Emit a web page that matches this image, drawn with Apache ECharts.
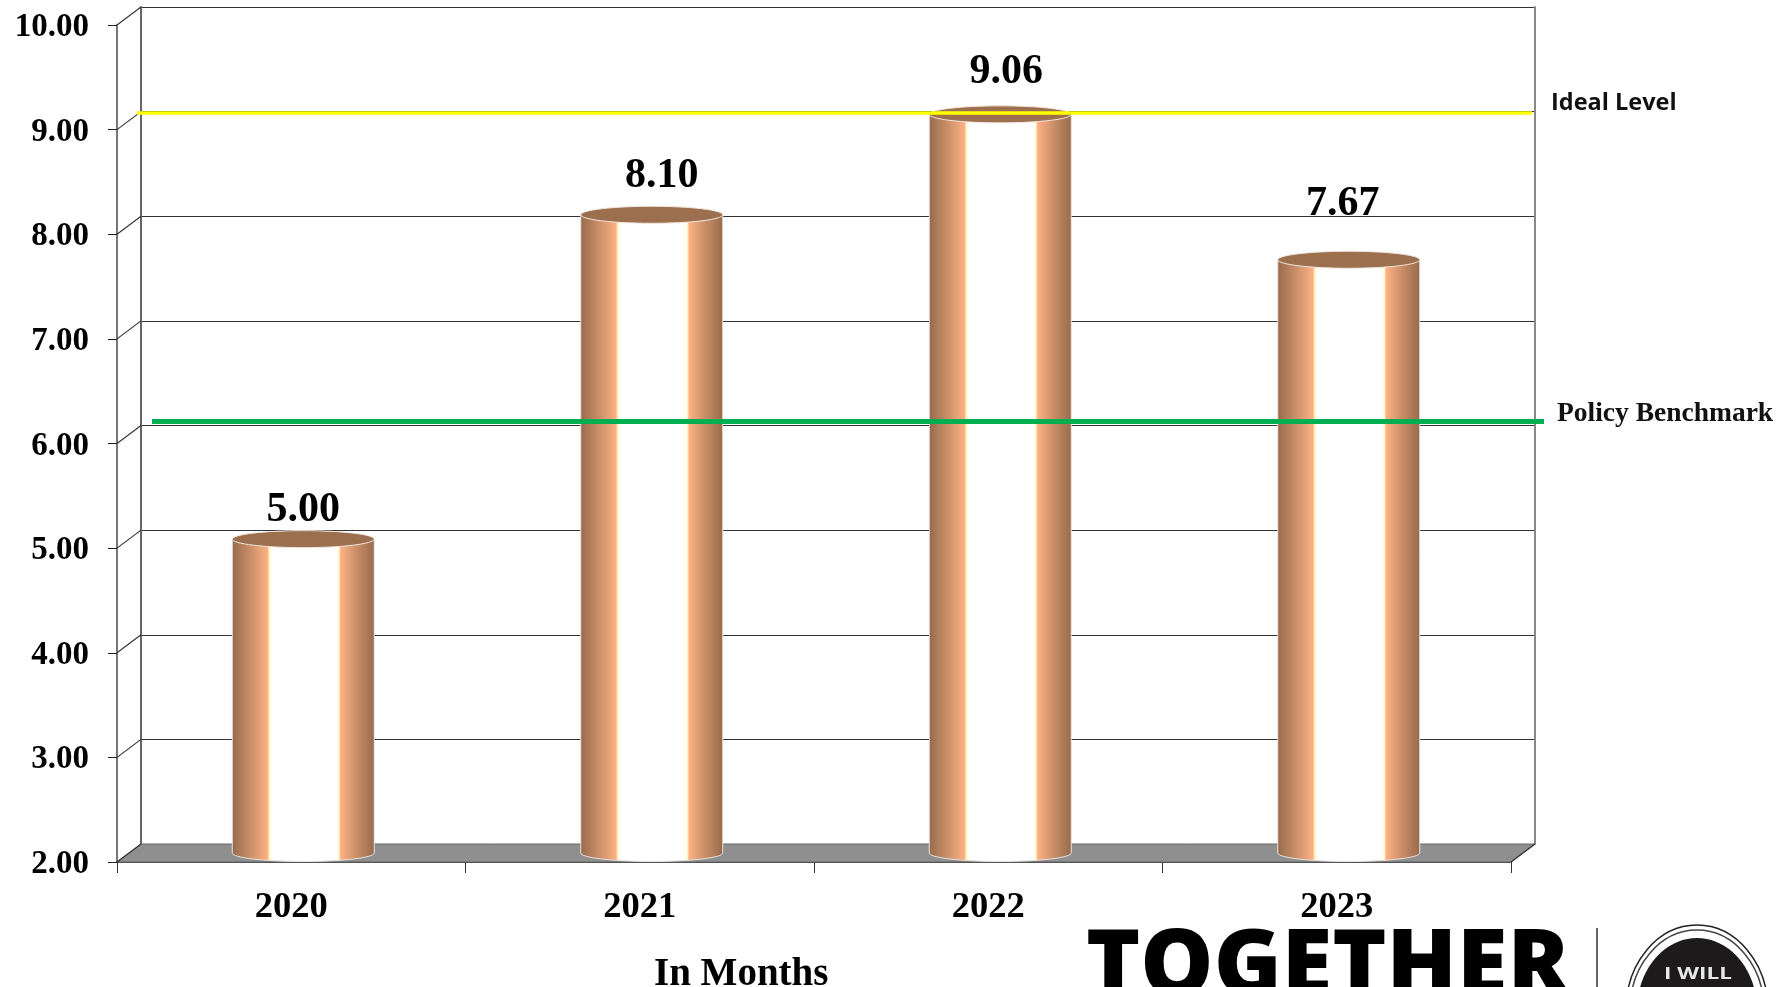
<!DOCTYPE html>
<html>
<head>
<meta charset="utf-8">
<title>Coverage in months</title>
<style>html,body{margin:0;padding:0;background:#fff}#chart{width:1784px;height:987px}</style>
<script src="https://cdn.jsdelivr.net/npm/echarts@6/dist/echarts.min.js"></script>
</head>
<body>
<div id="chart"></div>
<script>
// Chart values
const years = ['2020', '2021', '2022', '2023'];
const months = [5.00, 8.10, 9.06, 7.67];
const idealLevel = 9.16;
const policyBenchmark = 6.21;
const axisMin = 2;
const axisMax = 10;

// Perspective of the box behind the columns
const DEPTH_X = 24, DEPTH_Y = -18;
const BAR_W = 142, BAR_RY = 8.5;
const SERIF = '"Liberation Serif","Times New Roman",serif';

// Hand-placed value labels: shift from the top of each column
const labelShift = [[0, -29], [10, -39], [6, -42], [-6, -56]];

const tickValues = [];
for (let v = axisMin; v <= axisMax; v++) tickValues.push(v);

const chart = echarts.init(document.getElementById('chart'));

const copper = new echarts.graphic.LinearGradient(0, 0, 1, 0, [
  {offset: 0, color: '#966a4c'},
  {offset: 0.12, color: '#c68c65'},
  {offset: 0.25, color: '#fdb084'},
  {offset: 0.262, color: '#fff6c8'},
  {offset: 0.285, color: '#ffffff'},
  {offset: 0.735, color: '#ffffff'},
  {offset: 0.75, color: '#fff6c8'},
  {offset: 0.762, color: '#fdb084'},
  {offset: 0.88, color: '#c68c65'},
  {offset: 1, color: '#966a4c'}
]);

function renderColumn(params, api) {
  const top = api.coord([api.value(0), api.value(1)]);
  const base = api.coord([api.value(0), axisMin]);
  const cx = top[0] + DEPTH_X / 2;
  const ty = top[1] + DEPTH_Y / 2;
  const by = base[1] + DEPTH_Y / 2;
  const l = cx - BAR_W / 2, r = cx + BAR_W / 2;
  const shift = labelShift[params.dataIndex];
  const k = 0.5523;
  // Body outline: flat top, rounded bottom edge
  const body = `M${l} ${ty}L${r} ${ty}L${r} ${by}C${r} ${by + BAR_RY * k} ${cx + BAR_W / 2 * k} ${by + BAR_RY} ${cx} ${by + BAR_RY}` +
    `C${cx - BAR_W / 2 * k} ${by + BAR_RY} ${l} ${by + BAR_RY * k} ${l} ${by}Z`;
  return {
    type: 'group',
    children: [
      {type: 'path', shape: {pathData: body, x: l, y: ty, width: BAR_W, height: by + BAR_RY - ty, layout: 'none'},
        style: {fill: copper, stroke: '#e9e4e0', lineWidth: 1}},
      {type: 'ellipse', shape: {cx: cx, cy: ty, rx: BAR_W / 2, ry: BAR_RY},
        style: {fill: '#9c6f4f', stroke: '#f0e6de', lineWidth: 1}},
      {type: 'text', style: {text: api.value(1).toFixed(2), x: cx + shift[0], y: ty + shift[1],
        align: 'center', verticalAlign: 'middle', fill: '#000', font: 'bold 42px ' + SERIF}}
    ]
  };
}

function renderFloor(params) {
  const c = params.coordSys;
  const b = c.y + c.height;
  return {
    type: 'polygon',
    shape: {points: [[c.x, b], [c.x + DEPTH_X, b + DEPTH_Y], [c.x + c.width + DEPTH_X, b + DEPTH_Y], [c.x + c.width, b]]},
    style: {fill: '#8f8f8f', stroke: '#666', lineWidth: 1}
  };
}

// Slanted link from each left tick to the back wall
function renderLink(params, api) {
  const p = api.coord([0, api.value(0)]);
  const x = params.coordSys.x;
  return {
    type: 'line',
    shape: {x1: x, y1: p[1], x2: x + DEPTH_X, y2: p[1] + DEPTH_Y},
    style: {stroke: '#333', lineWidth: 1.2}
  };
}

// Diagonal closing the floor at the right-hand end
function renderEdge(params) {
  const c = params.coordSys;
  const b = c.y + c.height;
  return {
    type: 'line',
    shape: {x1: c.x + c.width, y1: b, x2: c.x + c.width + DEPTH_X, y2: b + DEPTH_Y},
    style: {stroke: '#333', lineWidth: 1.2}
  };
}

function levelRenderer(from, to, color, width) {
  return function (params, api) {
    const y = api.coord([0, api.value(0)])[1];
    const c = params.coordSys;
    return {
      type: 'line',
      shape: {x1: c.x + from, y1: y, x2: c.x + c.width + to, y2: y},
      style: {stroke: color, lineWidth: width}
    };
  };
}

chart.setOption({
  animation: false,
  backgroundColor: '#fff',
  grid: [
    {left: 117, top: 25, width: 1394, height: 837, outerBoundsMode: 'none', containLabel: false},
    {left: 141, top: 7, width: 1394, height: 837, outerBoundsMode: 'none', containLabel: false, show: false}
  ],
  xAxis: [
    {
      type: 'category', gridIndex: 0, data: years, boundaryGap: true,
      axisLine: {lineStyle: {color: '#444', width: 2}},
      axisTick: {show: true, length: 11, alignWithLabel: false, lineStyle: {color: '#333', width: 1}},
      axisLabel: {margin: 27, color: '#000', fontFamily: SERIF, fontWeight: 'bold', fontSize: 36.5}
    },
    {
      type: 'category', gridIndex: 1, data: years,
      axisLine: {show: false}, axisTick: {show: false}, axisLabel: {show: false}
    }
  ],
  yAxis: [
    {
      type: 'value', gridIndex: 0, min: axisMin, max: axisMax, interval: 1,
      axisLine: {show: true, lineStyle: {color: '#777', width: 2}},
      axisTick: {show: true, length: 9, lineStyle: {color: '#222', width: 1}},
      splitLine: {show: false},
      axisLabel: {
        margin: 28,
        formatter: v => '{tick|' + v.toFixed(2) + '}',
        rich: {tick: {color: '#000', fontFamily: SERIF, fontWeight: 'bold', fontSize: 33, padding: [5, 0, 0, 0]}}
      }
    },
    {
      type: 'value', gridIndex: 1, min: axisMin, max: axisMax, interval: 1,
      axisLine: {show: true, lineStyle: {color: '#666', width: 2}},
      axisTick: {show: false}, axisLabel: {show: false},
      splitLine: {show: true, lineStyle: {color: '#333', width: 1.2}}
    },
    {
      type: 'value', gridIndex: 1, position: 'right', min: axisMin, max: axisMax, interval: 1,
      axisLine: {show: true, lineStyle: {color: '#888', width: 2}},
      axisTick: {show: false}, axisLabel: {show: false}, splitLine: {show: false}
    }
  ],
  series: [
    {type: 'custom', name: 'Floor', xAxisIndex: 0, yAxisIndex: 0, z: 1, silent: true,
      renderItem: renderFloor, data: [0]},
    {type: 'custom', name: 'Depth', xAxisIndex: 0, yAxisIndex: 0, z: 1, silent: true,
      renderItem: renderLink, encode: {y: 0}, data: tickValues.map(v => [v])},
    {type: 'custom', name: 'Edge', xAxisIndex: 0, yAxisIndex: 0, z: 1, silent: true,
      renderItem: renderEdge, data: [0]},
    {type: 'custom', name: 'Months', xAxisIndex: 0, yAxisIndex: 0, z: 3,
      renderItem: renderColumn, encode: {x: 0, y: 1},
      data: months.map((m, i) => [i, m])},
    {type: 'custom', name: 'Ideal Level', xAxisIndex: 0, yAxisIndex: 0, z: 4, silent: true,
      renderItem: levelRenderer(20, 21, '#ffff00', 3.5), encode: {y: 0}, data: [[idealLevel]]},
    {type: 'custom', name: 'Policy Benchmark', xAxisIndex: 0, yAxisIndex: 0, z: 4, silent: true,
      renderItem: levelRenderer(35, 33, '#00b050', 5), encode: {y: 0}, data: [[policyBenchmark]]}
  ],
  graphic: [
    {type: 'text', left: 1551, top: 91, style: {text: 'Ideal Level', fill: '#111', font: 'bold 23.5px "Open Sans",sans-serif'}},
    {type: 'text', left: 1557, top: 400, style: {text: 'Policy Benchmark', fill: '#111', font: 'bold 27.5px "Liberation Serif",serif'}},
    {type: 'text', left: 654, top: 955, style: {text: 'In Months', fill: '#000', font: 'bold 39px "Liberation Serif",serif'}},
    // Campaign wordmark and badge along the bottom edge
    {type: 'text', left: 1086, top: 923, z: 10, style: {text: 'TOGETHER', fill: '#000', font: '800 92px "Open Sans",sans-serif'}},
    {type: 'line', z: 10, shape: {x1: 1597, y1: 928, x2: 1597, y2: 987}, style: {stroke: '#333', lineWidth: 1.5}},
    {type: 'ellipse', z: 10, shape: {cx: 1697, cy: 1010, rx: 71, ry: 85}, style: {fill: '#fff', stroke: '#222', lineWidth: 1.5}},
    {type: 'ellipse', z: 10, shape: {cx: 1697, cy: 1010, rx: 67, ry: 80}, style: {fill: '#fff', stroke: '#444', lineWidth: 1.5}},
    {type: 'ellipse', z: 10, shape: {cx: 1697, cy: 1010, rx: 60, ry: 72}, style: {fill: '#1c1a1a'}},
    {type: 'text', z: 11, x: 1698, y: 975, scaleX: 1.45, style: {text: 'I WILL', x: 0, y: 0, align: 'center', verticalAlign: 'middle', fill: '#e8e8e8', font: 'bold 15.5px "Open Sans",sans-serif'}},
    {type: 'text', z: 11, style: {text: 'GO', x: 1697, y: 1011, align: 'center', verticalAlign: 'alphabetic', fill: '#fff', font: '800 40px "Open Sans",sans-serif'}}
  ]
});
</script>
</body>
</html>
